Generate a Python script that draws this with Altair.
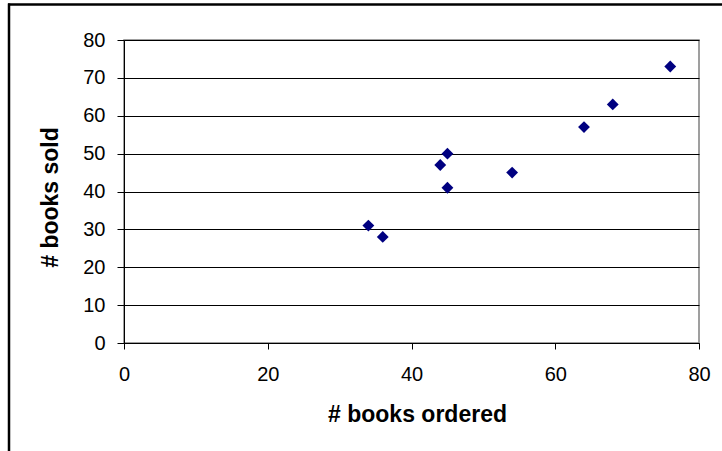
import altair as alt
import pandas as pd

# Books ordered vs. books sold
books_ordered = [34, 36, 44, 45, 45, 54, 64, 68, 76]
books_sold = [31, 28, 47, 50, 41, 45, 57, 63, 73]

x_ticks = [0, 20, 40, 60, 80]
y_ticks = [0, 10, 20, 30, 40, 50, 60, 70, 80]

df = pd.DataFrame({"ordered": books_ordered, "sold": books_sold})

FONT = "Liberation Sans"

points = (
    alt.Chart(df)
    .mark_point(shape="diamond", filled=True, color="#000080", size=140, opacity=1)
    .encode(
        x=alt.X(
            "ordered:Q",
            scale=alt.Scale(domain=[0, 80], nice=False, zero=True),
            axis=alt.Axis(
                values=x_ticks,
                grid=False,
                title="# books ordered",
                titleFont=FONT,
                titleFontSize=23,
                titleFontWeight="bold",
                titleColor="#000000",
                titleX=293,
                titleY=78,
                titleBaseline="alphabetic",
                labelFont=FONT,
                labelFontSize=20,
                labelColor="#000000",
                labelPadding=15,
                tickSize=6,
                tickColor="#000000",
                domainColor="#000000",
                labelFlush=False,
            ),
        ),
        y=alt.Y(
            "sold:Q",
            scale=alt.Scale(domain=[0, 80], nice=False, zero=True),
            axis=alt.Axis(
                values=y_ticks,
                grid=True,
                gridColor="#000000",
                gridWidth=1,
                gridOpacity=1,
                title="# books sold",
                titleFont=FONT,
                titleFontSize=23,
                titleFontWeight="bold",
                titleColor="#000000",
                titleAngle=-90,
                titleX=-67,
                titleY=157,
                titleAlign="center",
                titleBaseline="alphabetic",
                labelFont=FONT,
                labelFontSize=20,
                labelColor="#000000",
                labelPadding=12,
                tickSize=7,
                tickColor="#000000",
                domainColor="#000000",
                labelFlush=False,
            ),
        ),
    )
)

# Frame around the whole chart (top and left edges fall inside the page)
frame_data = alt.Data(values=[{"k": 0}])
frame_top = alt.Chart(frame_data).mark_rule(color="#000000", strokeWidth=2.5).encode(
    x=alt.value(-116), x2=alt.value(620), y=alt.value(-35.5)
)
frame_left = alt.Chart(frame_data).mark_rule(color="#000000", strokeWidth=2.5).encode(
    x=alt.value(-115), y=alt.value(-36.5), y2=alt.value(420)
)

chart = (
    alt.layer(frame_top, frame_left, points)
    .properties(
        width=575,
        height=303,
        autosize=alt.AutoSizeParams(type="none"),
        padding={"left": 124, "top": 40, "right": 23, "bottom": 108},
        background="#ffffff",
    )
    .configure_view(stroke="#808080", strokeWidth=1.5)
)

chart.save("out.html", embed_options={"renderer": "svg", "actions": False})
